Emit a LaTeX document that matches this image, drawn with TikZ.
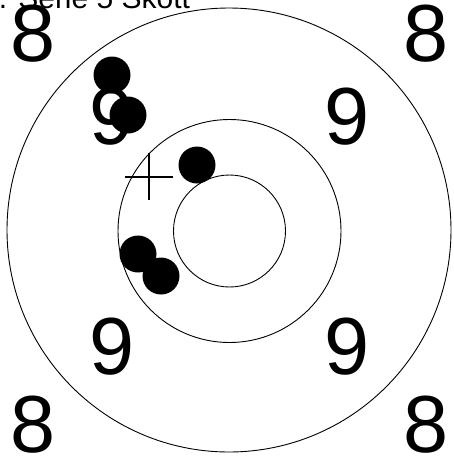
\documentclass[tikz,border=0pt]{standalone}
\usepackage{fontspec}
\setmainfont{Liberation Sans}
\begin{document}
\begin{tikzpicture}[x=1pt,y=-1pt,
  ring/.style={draw=black, line width=0.9pt},
  shot/.style={fill=black},
  digit/.style={inner sep=0pt, anchor=center, font=\fontsize{81}{81}\selectfont},
  crossline/.style={draw=black, line width=2pt}]
\useasboundingbox (0,0) rectangle (454,456);
\clip (0,0) rectangle (454,456);
% rings
\draw[ring] (229,230) circle[radius=222];
\draw[ring] (229.5,231) circle[radius=111.5];
\draw[ring] (229.5,231) circle[radius=56];
% digits
\node[digit] (d8a) at (33,34) {8};
\node[digit] (d8b) at (426,34) {8};
\node[digit] (d8c) at (33,425) {8};
\node[digit] (d8d) at (426,425) {8};
\node[digit] (d9a) at (112,117) {9};
\node[digit] (d9b) at (347,117) {9};
\node[digit] (d9c) at (112,347) {9};
\node[digit] (d9d) at (347,347) {9};
% title
\node[inner sep=0pt, anchor=base west, font=\fontsize{30}{30}\selectfont] (title) at (-18,8) {1. Serie 5 Skott};
% cross
\coordinate (cc) at (149,177);
\draw[crossline] ([xshift=-24pt]cc) -- ([xshift=24pt]cc);
\draw[crossline] ([yshift=-23pt]cc) -- ([yshift=24pt]cc);
% shots
\fill[shot] (112,75) circle[radius=18.5];
\fill[shot] (128,115) circle[radius=18.5];
\fill[shot] (197,165) circle[radius=18.5];
\fill[shot] (138,254) circle[radius=18.5];
\fill[shot] (161,276) circle[radius=18.5];
\end{tikzpicture}
\end{document}
